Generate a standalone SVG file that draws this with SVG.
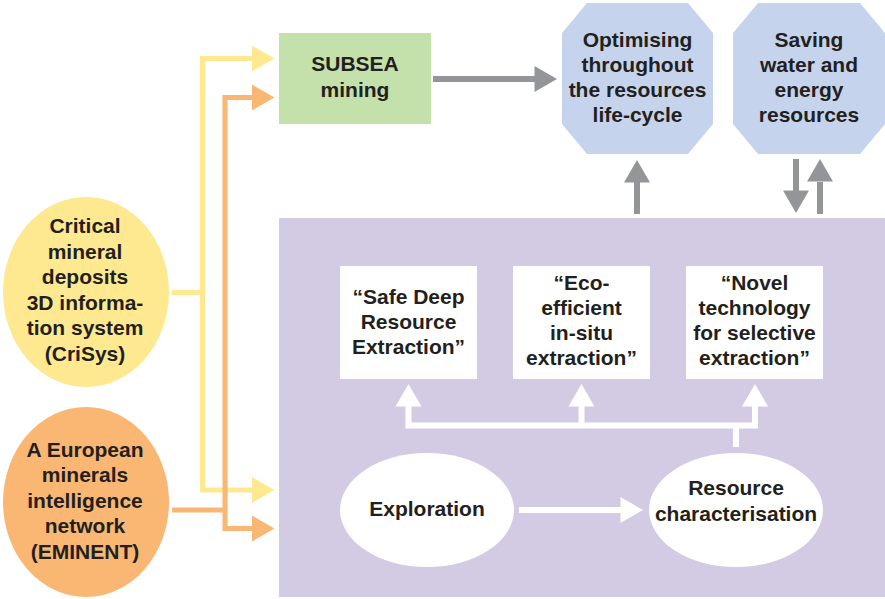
<svg xmlns="http://www.w3.org/2000/svg" xmlns:xlink="http://www.w3.org/1999/xlink" width="885" height="599" viewBox="0 0 885 599">
  <style>
    text { font-family: "Liberation Sans", Arial, sans-serif; font-weight: bold; font-size: 21px; fill: #231f20; text-anchor: middle; }
    .yel { stroke: #fee991; stroke-width: 5; fill: none; }
    .org { stroke: #f9b773; stroke-width: 5; fill: none; }
    .gry { stroke: #939598; stroke-width: 6; fill: none; }
    .wht { stroke: #ffffff; stroke-width: 6; fill: none; }
    .yelf { fill: #fee991; }
    .orgf { fill: #f9b773; }
    .gryf { fill: #939598; }
    .whtf { fill: #ffffff; }
  </style>
  <defs>
    <!-- arrowhead pointing right, tip at the origin -->
    <path id="head" d="M0,0 L-22.5,-13 L-22.5,13 Z"/>
  </defs>

  <!-- background panel -->
  <rect id="panel" x="279" y="218" width="606" height="379" fill="#d3cae3"/>

  <g id="connectors">
    <!-- CriSys feed -->
    <polyline class="yel" points="172,292.5 202.5,292.5"/>
    <polyline class="yel" points="252,58.5 202.5,58.5 202.5,490 252,490"/>
    <use xlink:href="#head" class="yelf" transform="translate(274.5,58.5)"/>
    <use xlink:href="#head" class="yelf" transform="translate(274.5,490)"/>
    <!-- EMINENT feed -->
    <polyline class="org" points="172,510 225,510"/>
    <polyline class="org" points="252,97.5 225,97.5 225,528.5 252,528.5"/>
    <use xlink:href="#head" class="orgf" transform="translate(274.5,97.5)"/>
    <use xlink:href="#head" class="orgf" transform="translate(274.5,528.5)"/>

    <!-- grey arrows -->
    <line class="gry" x1="433" y1="79" x2="536" y2="79"/>
    <use xlink:href="#head" class="gryf" transform="translate(557,79)"/>
    <line class="gry" x1="637" y1="214" x2="637" y2="182"/>
    <use xlink:href="#head" class="gryf" transform="translate(637,160) rotate(-90)"/>
    <line class="gry" x1="796" y1="159" x2="796" y2="191"/>
    <use xlink:href="#head" class="gryf" transform="translate(796,213) rotate(90)"/>
    <line class="gry" x1="820" y1="214" x2="820" y2="182"/>
    <use xlink:href="#head" class="gryf" transform="translate(820,159) rotate(-90)"/>

    <!-- white arrows inside the panel -->
    <polyline class="wht" points="408.5,405 408.5,425.5 755,425.5 755,405"/>
    <line class="wht" x1="581.5" y1="425.5" x2="581.5" y2="405"/>
    <line class="wht" x1="736" y1="425.5" x2="736" y2="447"/>
    <use xlink:href="#head" class="whtf" transform="translate(408.5,384) rotate(-90)"/>
    <use xlink:href="#head" class="whtf" transform="translate(581.5,384) rotate(-90)"/>
    <use xlink:href="#head" class="whtf" transform="translate(755,384) rotate(-90)"/>
    <line class="wht" x1="519" y1="510" x2="621" y2="510"/>
    <use xlink:href="#head" class="whtf" transform="translate(643,510)"/>
  </g>

  <g id="crisys">
    <ellipse cx="86" cy="292" rx="83" ry="95" fill="#fee991"/>
    <text x="85" y="233">Critical</text>
    <text x="85" y="258.5">mineral</text>
    <text x="85" y="284">deposits</text>
    <text x="85" y="309.5">3D informa-</text>
    <text x="85" y="335">tion system</text>
    <text x="85" y="360.5">(CriSys)</text>
  </g>

  <g id="eminent">
    <ellipse cx="86" cy="502" rx="83" ry="95" fill="#f9b773"/>
    <text x="85" y="456.5">A European</text>
    <text x="85" y="482">minerals</text>
    <text x="85" y="507.5">intelligence</text>
    <text x="85" y="533">network</text>
    <text x="85" y="558.5">(EMINENT)</text>
  </g>

  <g id="subsea">
    <rect x="279" y="33" width="152" height="91" fill="#c4e0ab"/>
    <text x="355" y="70.5">SUBSEA</text>
    <text x="355" y="96.5">mining</text>
  </g>

  <g id="optimising">
    <polygon points="587,3 688,3 713,33 713,124 688,154 587,154 562,124 562,33" fill="#c5d4ec"/>
    <text x="637.5" y="46.5">Optimising</text>
    <text x="637.5" y="71.5">throughout</text>
    <text x="637.5" y="96.5">the resources</text>
    <text x="637.5" y="121.5">life-cycle</text>
  </g>

  <g id="saving">
    <polygon points="758,3 860,3 885,33 885,124 860,154 758,154 733,124 733,33" fill="#c5d4ec"/>
    <text x="809" y="46.5">Saving</text>
    <text x="809" y="71.5">water and</text>
    <text x="809" y="96.5">energy</text>
    <text x="809" y="121.5">resources</text>
  </g>

  <g id="safe-deep">
    <rect x="340" y="266" width="137" height="113" fill="#ffffff"/>
    <text x="408.5" y="303.5">“Safe Deep</text>
    <text x="408.5" y="328.5">Resource</text>
    <text x="408.5" y="353.5">Extraction”</text>
  </g>

  <g id="eco-efficient">
    <rect x="513" y="266" width="137" height="113" fill="#ffffff"/>
    <text x="581.5" y="289.5">“Eco-</text>
    <text x="581.5" y="314.5">efficient</text>
    <text x="581.5" y="339.5">in-situ</text>
    <text x="581.5" y="364.5">extraction”</text>
  </g>

  <g id="novel">
    <rect x="686" y="266" width="137" height="113" fill="#ffffff"/>
    <text x="754.5" y="289.5">“Novel</text>
    <text x="754.5" y="314.5">technology</text>
    <text x="754.5" y="339.5">for selective</text>
    <text x="754.5" y="364.5">extraction”</text>
  </g>

  <g id="exploration">
    <ellipse cx="427" cy="510" rx="87" ry="57" fill="#ffffff"/>
    <text x="427" y="516">Exploration</text>
  </g>

  <g id="characterisation">
    <ellipse cx="736" cy="510" rx="87" ry="57" fill="#ffffff"/>
    <text x="736" y="495">Resource</text>
    <text x="736" y="521">characterisation</text>
  </g>
</svg>
